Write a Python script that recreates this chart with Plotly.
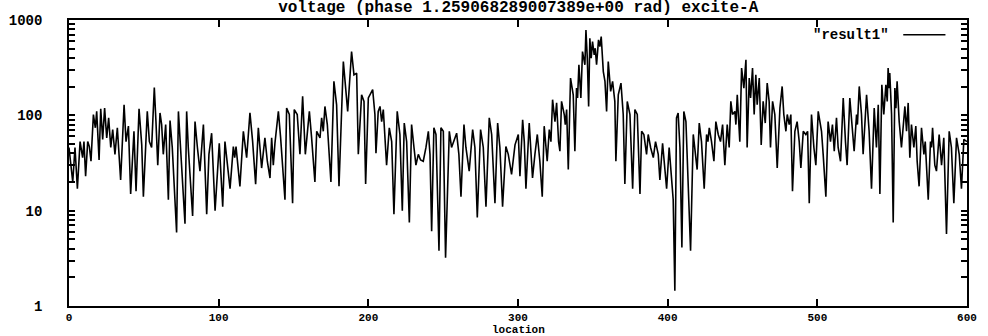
import plotly.graph_objects as go

# ---- data (location, voltage) ----
loc_a = [0, 2.5, 4.0, 5.6, 7.4, 9.1, 10.0, 11.1, 12.5, 13.6, 14.7, 16.3, 17.6, 18.5, 20.1, 21.2, 22.5, 23.8, 25.2, 26.5,
         27.9, 29.2, 30.7, 32.3, 34.5, 36.8, 38.1, 39.7, 41.2, 43.4, 44.8, 46.8, 48.6, 49.7, 52.3, 53.7, 55.2, 57.0, 58.1,
         59.3, 60.8, 61.9, 63.0, 64.6, 66.4, 67.5, 69.0, 71.9, 73.1, 74.6, 77.5, 78.6, 79.7, 82.6, 84.2, 85.8, 87.5, 89.8,
         92.0, 93.5, 95.3, 97.6]
volt_a = [46, 20, 46, 17, 53, 36, 53, 23, 53, 47, 33, 102, 74, 110, 34, 117, 56, 119, 58, 94,
          46, 71, 39, 74, 21, 129, 53, 77, 15, 68, 16, 117, 49, 14, 110, 53, 46, 196, 86,
          30, 106, 80, 39, 80, 13, 88, 46, 5.9, 110, 46, 7.3, 110, 46, 8.8, 86, 46, 26, 80,
          9.2, 39, 65, 10]

loc_b = [100.4, 102.7, 104.2, 107.6, 109.8, 110.7, 111.6, 114.2, 116.5, 118.7, 120.9, 122.7, 124.7, 126.5, 128.7, 130.9,
         132.5, 134.3, 135.4, 136.5, 137.6, 139.9, 141.4, 144.3, 145.4, 147.2, 149.4, 150.5, 152.5, 154.3, 156.1, 157.9,
         160.6, 162.1, 164.3, 165.5, 167.7, 168.8, 169.9, 171.0, 172.6, 175.0, 177.0, 178.8, 180.4, 183.3, 185.1, 186.2,
         188.8, 190.4, 192.2, 193.3, 195.5, 197.1, 198.2, 200.0]
volt_b = [51, 11, 53, 17, 47, 36, 47, 18, 68, 36, 106, 53, 19, 74, 28, 58,
          33, 22, 58, 30, 51, 110, 58, 13, 119, 102, 12, 115, 102, 39, 158, 39,
          110, 58, 20, 68, 58, 94, 68, 124, 80, 20, 227, 129, 18, 367, 178, 110,
          467, 266, 277, 39, 164, 140, 19, 152]

loc_c = [202.9, 204.4, 205.1, 206.6, 207.8, 208.9, 210.0, 211.1, 212.2, 214.0, 215.6, 217.1, 219.3, 221.1, 222.7, 224.0,
         225.6, 227.4, 228.9, 230.5, 231.8, 233.4, 234.9, 236.7, 238.5, 240.1, 241.2, 242.3, 243.8, 245.2, 247.2, 248.5,
         250.1, 251.6, 254.1, 255.6, 257.2, 259.0, 260.5, 261.9, 263.9, 265.2, 267.4, 269.7, 271.2, 272.8, 275.0, 276.8,
         278.6, 280.8, 282.4, 284.6, 286.4, 287.9, 289.7, 291.9, 293.5, 295.7, 298.0, 300.2]
volt_c = [186, 102, 40, 110, 124, 86, 115, 53, 30, 74, 53, 9.2, 110, 63, 10, 83,
          53, 7.5, 80, 46, 30, 39, 34, 33, 46, 68, 39, 6.1, 74, 63, 3.8, 74,
          68, 3.2, 68, 46, 53, 65, 39, 14, 80, 46, 26, 71, 46, 8.5, 71, 46,
          11, 94, 63, 12, 83, 46, 11, 47, 39, 24, 49, 63]

loc_d = [301.3, 303.1, 304.2, 305.3, 307.5, 309.7, 311.3, 312.9, 314.6, 316.2, 317.5, 318.7, 319.5, 320.9, 322.0, 323.1,
         324.7, 325.8, 327.1, 328.0, 329.1, 330.9, 331.6, 332.5, 333.6, 335.1, 336.9, 338.0, 339.1, 339.8, 340.7, 342.0,
         343.1, 344.7, 345.4, 346.3, 347.2, 348.0, 348.9, 349.8, 350.9, 351.6, 352.5, 353.8, 354.7, 355.6, 357.0, 358.1,
         359.2, 360.3, 361.9, 363.2, 364.7, 365.4, 367.0, 368.8, 370.3, 371.4, 373.0, 374.8, 376.6, 378.1, 379.7, 381.5,
         382.6, 384.1, 385.9, 387.0, 388.6, 390.4, 391.9, 393.7, 394.8, 396.6, 398.2, 399.3, 401.0]
volt_d = [23, 90, 53, 17, 83, 22, 39, 63, 33, 14, 77, 46, 33, 71, 53, 146,
          86, 135, 53, 42, 140, 102, 80, 115, 27, 246, 164, 42, 193, 152, 339, 152,
          467, 339, 786, 397, 124, 643, 397, 594, 431, 506, 339, 618, 526, 670, 288, 227,
          110, 367, 178, 227, 140, 33, 164, 218, 102, 19, 140, 102, 17, 115, 102, 15,
          68, 63, 39, 63, 46, 36, 53, 39, 21, 51, 24, 17, 46]

loc_e = [403.7, 404.8, 405.9, 407.0, 408.2, 409.5, 410.8, 412.2, 413.7, 415.3, 417.1, 418.6, 419.7, 421.1, 422.6, 424.4,
         426.0, 426.9, 427.8, 429.3, 430.9, 432.2, 433.8, 435.3, 436.7, 438.2, 439.8, 441.1, 442.2, 443.3, 444.9, 445.6,
         446.5, 448.2, 449.4, 450.9, 452.3, 453.1, 454.5, 455.4, 456.7, 457.8, 458.9, 459.8, 461.2, 462.5, 463.8, 465.2,
         466.5, 467.8, 468.7, 470.1, 471.6, 473.2, 475.0, 476.5, 477.6, 479.0, 479.9, 481.2, 482.3, 483.4, 485.0, 486.5,
         487.9, 489.0, 490.6, 492.3, 493.5, 494.6, 496.1, 497.7, 499.0, 500.6]
volt_e = [13, 1.45, 94, 106, 46, 4.1, 110, 86, 20, 3.8, 63, 39, 27, 83, 53, 17,
          63, 53, 74, 53, 33, 86, 63, 53, 80, 30, 80, 46, 140, 102, 110, 80,
          164, 53, 313, 193, 382, 46, 246, 152, 313, 102, 266, 129, 246, 49, 140, 83,
          218, 140, 46, 140, 102, 28, 119, 201, 102, 68, 102, 80, 102, 16, 68, 86,
          53, 28, 68, 63, 68, 12, 102, 46, 30, 110]

loc_f = [502.8, 503.9, 505.7, 507.2, 508.8, 510.1, 511.3, 512.8, 513.9, 515.5, 517.3, 518.8, 519.9, 521.7, 523.5, 524.6,
         526.2, 526.8, 528.0, 529.5, 530.6, 532.9, 534.6, 536.2, 538.0, 539.5, 540.7, 541.8, 543.1, 544.4, 545.8, 546.7,
         547.3, 548.0, 548.4, 549.6, 550.7, 551.8, 552.5, 553.3, 554.7, 556.2, 558.5, 559.6, 560.7, 561.8, 562.9, 564.5,
         565.8, 566.7, 568.0, 569.6, 571.2, 572.1, 574.1, 575.6, 576.3, 577.0, 578.5, 579.6, 581.4, 583.0, 584.5, 586.3,
         588.1, 589.6, 591.2, 593.0, 594.8, 596.3, 597.9, 600.0]
volt_f = [68, 39, 14, 86, 53, 80, 42, 94, 46, 33, 152, 53, 30, 152, 68, 42,
          102, 80, 201, 102, 39, 164, 68, 17, 119, 46, 129, 15, 209, 102, 209, 140,
          313, 193, 277, 102, 7.5, 193, 119, 227, 86, 46, 124, 68, 135, 36, 80, 46,
          77, 33, 18, 74, 39, 53, 13, 53, 46, 74, 30, 26, 63, 30, 58, 5.7,
          68, 46, 12, 58, 39, 17, 56, 53]

location = loc_a + loc_b + loc_c + loc_d + loc_e + loc_f
voltage = volt_a + volt_b + volt_c + volt_d + volt_e + volt_f

x_ticks = [0, 100, 200, 300, 400, 500, 600]
y_major_ticks = [1, 10, 100, 1000]
y_major_text = ["1", "10", "100", "1000"]
y_minor_ticks = [2, 3, 4, 5, 6, 7, 8, 9, 20, 30, 40, 50, 60, 70, 80, 90, 200, 300, 400, 500, 600, 700, 800, 900]

series_name = '"result1"'
title_text = "voltage (phase 1.259068289007389e+00 rad) excite-A"
x_title = "location"

FONT = "Liberation Mono"

y_tickvals = y_major_ticks + y_minor_ticks
y_ticktext = y_major_text + [""] * len(y_minor_ticks)

fig = go.Figure()
fig.add_trace(go.Scatter(x=location, y=voltage, mode="lines",
                         line=dict(color="black", width=1.6),
                         name=series_name, showlegend=False))

fig.update_layout(
    width=988, height=336,
    margin=dict(l=69, r=21, t=20, b=30, autoexpand=False),
    paper_bgcolor="white", plot_bgcolor="white",
    font=dict(family=FONT, size=13, color="black", weight="bold"),
    title=dict(text=title_text, x=0.5245, xanchor="center", y=0.982, yanchor="middle",
               font=dict(family=FONT, size=16, color="black", weight="bold")),
    showlegend=False,
)

fig.update_xaxes(range=[0, 600], tickvals=x_ticks, ticks="inside", ticklen=7,
                 tickwidth=1.6, tickcolor="black", automargin=False,
                 showline=True, linecolor="black", linewidth=1.6, mirror="ticks",
                 showgrid=False, zeroline=False,
                 tickfont=dict(family=FONT, size=11, color="black", weight="bold"))

fig.update_yaxes(type="log", range=[0, 3], tickmode="array",
                 tickvals=y_tickvals, ticktext=y_ticktext,
                 ticks="inside", ticklen=6, tickwidth=1.6, tickcolor="black", automargin=False,
                 showline=True, linecolor="black", linewidth=1.6, mirror="ticks",
                 showgrid=False, zeroline=False, ticklabelstandoff=22,
                 tickfont=dict(family=FONT, size=14, color="black", weight="bold"))

# axis title placed like the reference (just under the tick labels)
fig.add_annotation(text=x_title, xref="paper", yref="paper", x=0.5, y=-0.0826,
                   xanchor="center", yanchor="middle", showarrow=False,
                   font=dict(family=FONT, size=11, color="black", weight="bold"))

# key: label followed by a line sample, top right inside the frame
fig.add_annotation(text=series_name, xref="paper", yref="paper", x=0.915, y=0.948,
                   xanchor="right", yanchor="middle", showarrow=False,
                   font=dict(family=FONT, size=14, color="black", weight="bold"))
fig.add_shape(type="line", xref="paper", yref="paper", x0=0.929, x1=0.976, y0=0.948, y1=0.948,
              line=dict(color="black", width=1.5))

fig.write_html("out.html")
